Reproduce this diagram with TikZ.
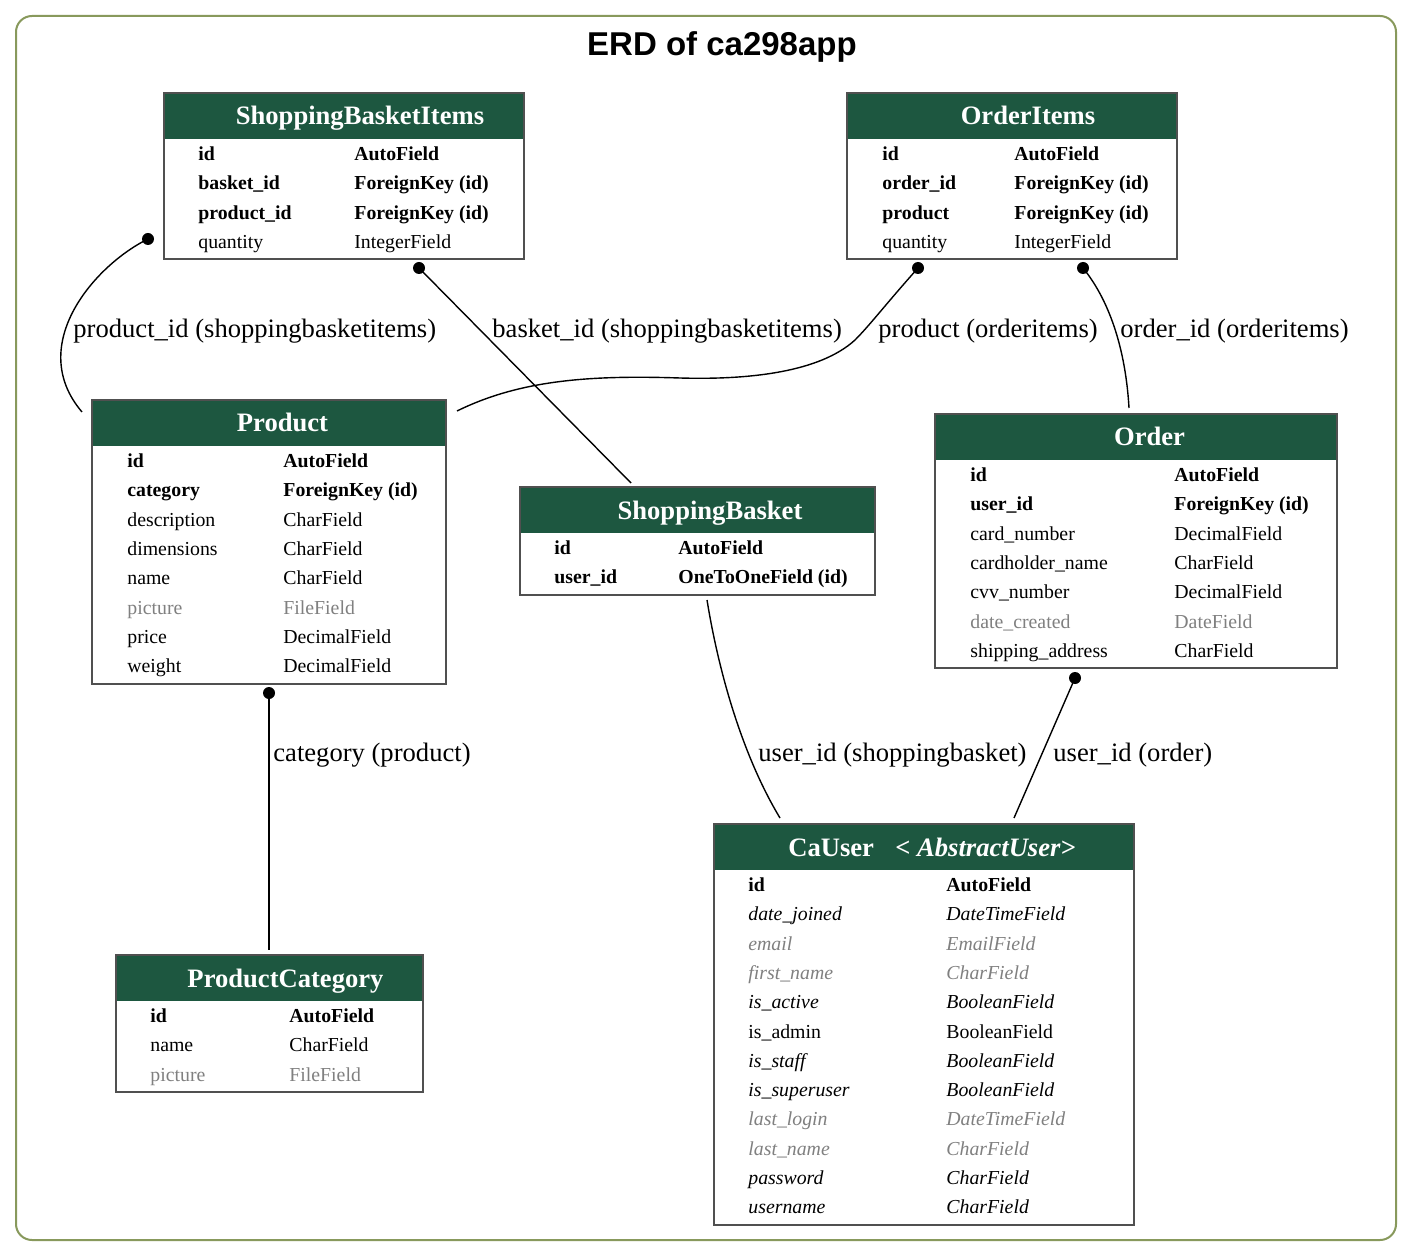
\documentclass[tikz,border=0pt]{standalone}
\usepackage{fontspec}
\setmainfont{Liberation Serif}
\newfontfamily\headingsans{Liberation Sans}
\usetikzlibrary{fit}

\definecolor{framegreen}{RGB}{136,153,92}
\definecolor{headgreen}{RGB}{29,87,64}
\definecolor{edgegray}{RGB}{80,80,80}
\definecolor{dimtext}{RGB}{128,128,128}

\newcommand\rowfont{\fontsize{9.9}{12}\selectfont}
\newcommand\headfont{\fontsize{13.3}{16}\selectfont\bfseries}
\newcommand\labelfont{\fontsize{13.3}{16}\selectfont}

\tikzset{
  tablebox/.style={draw=none, fill=white, inner sep=0pt},
  tableedge/.style={draw=edgegray, line width=1pt},
  headfill/.style={fill=headgreen},
  headtext/.style={anchor=base, text=white, inner sep=0pt, font=\headfont},
  cell/.style={anchor=base west, inner sep=0pt, font=\rowfont},
  keyrow/.style={font=\rowfont\bfseries},
  plainrow/.style={},
  dimrow/.style={text=dimtext},
  inhrow/.style={font=\rowfont\itshape},
  diminhrow/.style={font=\rowfont\itshape, text=dimtext},
  rel/.style={line width=0.7pt},
  reldot/.style={fill=black},
  rellabel/.style={anchor=base west, inner sep=0pt, font=\labelfont},
}

% table frame: name, left, right, top, number of rows, title centre x, title
\newcommand\erdbox[7]{%
  \pgfmathsetmacro\boxb{#4+66.5+29.3*(#5-1)+11.6}%
  \pgfmathsetmacro\hdrb{#4+46}%
  \node[tablebox, fit={(#2,#4) (#3,\boxb)}] (#1) {};
  \fill[headfill] (#2,#4) rectangle (#3,\hdrb);
  \draw[tableedge] (#1.north west) rectangle (#1.south east);
  \node[headtext] (#1-title) at (#6,#4+32) {#7};
}
% current table: top, field column x, type column x
\newcommand\settable[3]{\def\tabtop{#1}\def\colA{#2}\def\colB{#3}}
% one row: table name, index, style, field, type
\newcommand\erdrow[5]{%
  \pgfmathsetmacro\rowy{\tabtop+67.5+29.3*#2}%
  \node[cell,#3] (#1-f#2) at (\colA,\rowy) {#4};
  \node[cell,#3] (#1-t#2) at (\colB,\rowy) {#5};
}

\begin{document}
\begin{tikzpicture}[x=0.5pt,y=-0.5pt]
\useasboundingbox (0,0) rectangle (1412,1256);
\fill[white] (0,0) rectangle (1412,1256);
\draw[framegreen, line width=1pt, rounded corners=8pt] (16,16) rectangle (1396,1240);
\node[anchor=base, inner sep=0pt, font=\headingsans\bfseries\fontsize{16.5}{20}\selectfont] (title) at (722,56) {ERD of ca298app};

% ShoppingBasketItems
\erdbox{sbi}{164}{524}{93}{4}{360}{ShoppingBasketItems}
\settable{93}{198}{354}
\erdrow{sbi}{0}{keyrow}{id}{AutoField}
\erdrow{sbi}{1}{keyrow}{basket\_id}{ForeignKey (id)}
\erdrow{sbi}{2}{keyrow}{product\_id}{ForeignKey (id)}
\erdrow{sbi}{3}{plainrow}{quantity}{IntegerField}

% OrderItems
\erdbox{oi}{847}{1177}{93}{4}{1028}{OrderItems}
\settable{93}{882}{1014}
\erdrow{oi}{0}{keyrow}{id}{AutoField}
\erdrow{oi}{1}{keyrow}{order\_id}{ForeignKey (id)}
\erdrow{oi}{2}{keyrow}{product}{ForeignKey (id)}
\erdrow{oi}{3}{plainrow}{quantity}{IntegerField}

% Product
\erdbox{prod}{92}{446}{400}{8}{282.5}{Product}
\settable{400}{127}{283}
\erdrow{prod}{0}{keyrow}{id}{AutoField}
\erdrow{prod}{1}{keyrow}{category}{ForeignKey (id)}
\erdrow{prod}{2}{plainrow}{description}{CharField}
\erdrow{prod}{3}{plainrow}{dimensions}{CharField}
\erdrow{prod}{4}{plainrow}{name}{CharField}
\erdrow{prod}{5}{dimrow}{picture}{FileField}
\erdrow{prod}{6}{plainrow}{price}{DecimalField}
\erdrow{prod}{7}{plainrow}{weight}{DecimalField}

% ShoppingBasket
\erdbox{sb}{520}{875}{487}{2}{710}{ShoppingBasket}
\settable{487}{554}{678}
\erdrow{sb}{0}{keyrow}{id}{AutoField}
\erdrow{sb}{1}{keyrow}{user\_id}{OneToOneField (id)}

% Order
\erdbox{ord}{935}{1337}{414}{7}{1149.5}{Order}
\settable{414}{970}{1174}
\erdrow{ord}{0}{keyrow}{id}{AutoField}
\erdrow{ord}{1}{keyrow}{user\_id}{ForeignKey (id)}
\erdrow{ord}{2}{plainrow}{card\_number}{DecimalField}
\erdrow{ord}{3}{plainrow}{cardholder\_name}{CharField}
\erdrow{ord}{4}{plainrow}{cvv\_number}{DecimalField}
\erdrow{ord}{5}{dimrow}{date\_created}{DateField}
\erdrow{ord}{6}{plainrow}{shipping\_address}{CharField}

% ProductCategory
\erdbox{pc}{116}{423}{955}{3}{285.5}{ProductCategory}
\settable{955}{150}{289}
\erdrow{pc}{0}{keyrow}{id}{AutoField}
\erdrow{pc}{1}{plainrow}{name}{CharField}
\erdrow{pc}{2}{dimrow}{picture}{FileField}

% CaUser
\erdbox{cu}{714}{1134}{824}{12}{932}{CaUser\hspace{0.8em}\textit{< AbstractUser>}}
\settable{824}{748}{946}
\erdrow{cu}{0}{keyrow}{id}{AutoField}
\erdrow{cu}{1}{inhrow}{date\_joined}{DateTimeField}
\erdrow{cu}{2}{diminhrow}{email}{EmailField}
\erdrow{cu}{3}{diminhrow}{first\_name}{CharField}
\erdrow{cu}{4}{inhrow}{is\_active}{BooleanField}
\erdrow{cu}{5}{plainrow}{is\_admin}{BooleanField}
\erdrow{cu}{6}{inhrow}{is\_staff}{BooleanField}
\erdrow{cu}{7}{inhrow}{is\_superuser}{BooleanField}
\erdrow{cu}{8}{diminhrow}{last\_login}{DateTimeField}
\erdrow{cu}{9}{diminhrow}{last\_name}{CharField}
\erdrow{cu}{10}{inhrow}{password}{CharField}
\erdrow{cu}{11}{inhrow}{username}{CharField}

% connector end points
\coordinate (sbi-prod) at (148,239);
\coordinate (prod-sbi) at (82,412);
\coordinate (sbi-sb) at (419,268);
\coordinate (sb-sbi) at (631,483);
\coordinate (oi-prod) at (918,268);
\coordinate (prod-oi) at (457,411);
\coordinate (oi-ord) at (1083,268);
\coordinate (ord-oi) at (1129,408);
\coordinate (prod-pc) at (269,693);
\coordinate (pc-prod) at (269,950);
\coordinate (sb-cu) at (707,600);
\coordinate (cu-sb) at (780,818);
\coordinate (ord-cu) at (1075,678);
\coordinate (cu-ord) at (1014,818);

% relations
\draw[rel] (sbi-prod) .. controls (95,265) and (25,345) .. (prod-sbi);
\draw[rel] (sbi-sb) -- (sb-sbi);
\draw[rel] (oi-prod) .. controls (885,305) and (870,325) .. (855,340)
  .. controls (820,372) and (750,380) .. (680,378)
  .. controls (590,375) and (520,380) .. (prod-oi);
\draw[rel] (oi-ord) .. controls (1105,295) and (1125,340) .. (ord-oi);
\draw[rel] (prod-pc) -- (pc-prod);
\draw[rel] (sb-cu) .. controls (720,680) and (745,760) .. (cu-sb);
\draw[rel] (ord-cu) -- (cu-ord);

\foreach \d in {sbi-prod,sbi-sb,oi-prod,oi-ord,prod-pc,ord-cu}
  \fill[reldot] (\d) circle[radius=3pt];

% relation labels
\node[rellabel] (l-sbiprod) at (73,338) {product\_id (shoppingbasketitems)};
\node[rellabel] (l-sbisb) at (492,338) {basket\_id (shoppingbasketitems)};
\node[rellabel] (l-oiprod) at (878,338) {product (orderitems)};
\node[rellabel] (l-oiord) at (1120,338) {order\_id (orderitems)};
\node[rellabel] (l-prodpc) at (273,761) {category (product)};
\node[rellabel] (l-sbcu) at (758,761) {user\_id (shoppingbasket)};
\node[rellabel] (l-ordcu) at (1053,761) {user\_id (order)};
\end{tikzpicture}
\end{document}
